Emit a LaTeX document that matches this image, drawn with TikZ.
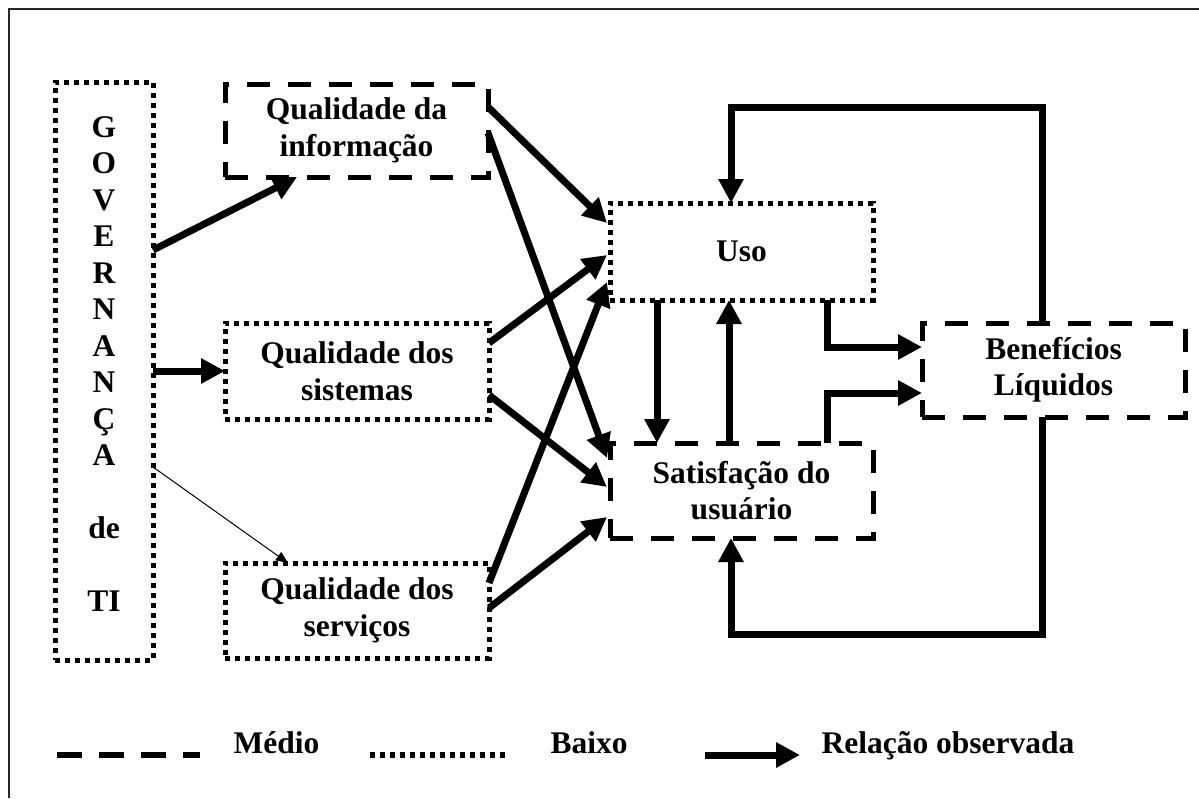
\documentclass[tikz,border=0pt]{standalone}
\usepackage{fontspec}
\setmainfont{Liberation Serif}
\usetikzlibrary{arrows.meta}
\begin{document}
\begin{tikzpicture}[x=1pt,y=-1pt,
  every node/.style={font=\fontsize{31.5}{36.5}\selectfont\bfseries},
  box/.style={draw, rectangle, inner sep=0pt, outer sep=0pt, align=center},
  medio/.style={box, line width=5pt, dash pattern=on 23pt off 18pt},
  baixo/.style={box, line width=5pt, dash pattern=on 5pt off 5pt},
  flow/.style={line width=7pt, -{Triangle[length=24pt,width=24pt]}},
  thinflow/.style={line width=1pt, -{Triangle[length=12pt,width=10pt]}},
  frame/.style={line width=1.3pt, draw=black!85},
]
\useasboundingbox (0,0) rectangle (1199,798);

% outer frame (top and left edges)
\coordinate (fa) at (9,798);
\coordinate (fb) at (9,9);
\coordinate (fc) at (1199,9);
\draw[frame] (fa) -- (fb) -- (fc);

% boxes
\node[baixo, minimum width=98pt, minimum height=578pt] (gov) at (104,371) {};
\node[align=center] (govtxt) at (104,364) {G\\O\\V\\E\\R\\N\\A\\N\\Ç\\A\\[36.5pt]de\\[36.5pt]TI};

\node[medio, minimum width=263pt, minimum height=93pt] (qi) at (356.5,130.5) {Qualidade da\\informação};
\node[baixo, minimum width=264pt, minimum height=96pt] (qs) at (357,371) {Qualidade dos\\sistemas};
\node[baixo, minimum width=264pt, minimum height=95pt] (qsv) at (357,610.5) {Qualidade dos\\serviços};
\node[baixo, minimum width=263pt, minimum height=97pt] (uso) at (741.5,251.5) {Uso};
\node[medio, minimum width=263pt, minimum height=95pt] (sat) at (741.5,490.5) {Satisfação do\\usuário};
\node[medio, minimum width=263pt, minimum height=94pt] (ben) at (1053.5,370) {Benefícios\\Líquidos};

% governance links
\draw[flow] ([yshift=-168pt]gov.north east) -- ([xshift=72pt]qi.south west);
\draw[flow] (gov.east |- qs.west) -- (qs.west);
\draw[thinflow] ([yshift=-385pt]gov.north east) -- ([xshift=63pt]qsv.north west);

% quality dimensions to use and satisfaction
\draw[flow] ([yshift=-23pt]qi.north east) -- ([xshift=-3pt,yshift=-20pt]uso.north west);
\draw[flow] ([yshift=-49pt]qi.north east) -- ([xshift=-3pt,yshift=-15pt]sat.north west);
\draw[flow] ([yshift=-20pt]qs.north east) -- ([xshift=-3pt,yshift=-52pt]uso.north west);
\draw[flow] ([yshift=-72pt]qs.north east) -- ([xshift=-3pt,yshift=-44pt]sat.north west);
\draw[flow] ([yshift=-20pt]qsv.north east) -- ([xshift=-3pt,yshift=-79pt]uso.north west);
\draw[flow] ([yshift=-45pt]qsv.north east) -- ([xshift=-3pt,yshift=-74pt]sat.north west);

% use <-> satisfaction
\draw[flow] ([xshift=47pt]uso.south west) -- ([xshift=47pt]sat.north west);
\draw[flow] ([xshift=119pt]sat.north west) -- ([xshift=119pt]uso.south west);

% to net benefits
\draw[flow] ([xshift=217pt]uso.south west) |- ([yshift=23pt]ben.west);
\draw[flow] ([xshift=217pt]sat.north west) |- ([yshift=-23pt]ben.west);

% feedback loops
\coordinate (bt) at ([xshift=-11.5pt]ben.north);
\coordinate (ut) at ([xshift=-10.5pt]uso.north);
\coordinate (ltop) at (0,107);
\draw[flow] (bt) -- (bt |- ltop) -| (ut);
\coordinate (bb) at ([xshift=-11.5pt]ben.south);
\coordinate (sb) at ([xshift=-10.5pt]sat.south);
\coordinate (lbot) at (0,634);
\draw[flow] (bb) -- (bb |- lbot) -| (sb);

% legend
\coordinate (m1) at (57,755);
\coordinate (m2) at (200,755);
\draw[line width=6pt, dash pattern=on 25pt off 17pt] (m1) -- (m2);
\node[anchor=base west] (lm) at (230,753) {Médio};
\coordinate (b1) at (370,755);
\coordinate (b2) at (507,755);
\draw[line width=5.5pt, dash pattern=on 5pt off 5pt] (b1) -- (b2);
\node[anchor=base west] (lb) at (547,753) {Baixo};
\coordinate (r1) at (705,755);
\coordinate (r2) at (800,755);
\draw[flow] (r1) -- (r2);
\node[anchor=base west] (lr) at (818,753) {Relação observada};
\end{tikzpicture}
\end{document}
